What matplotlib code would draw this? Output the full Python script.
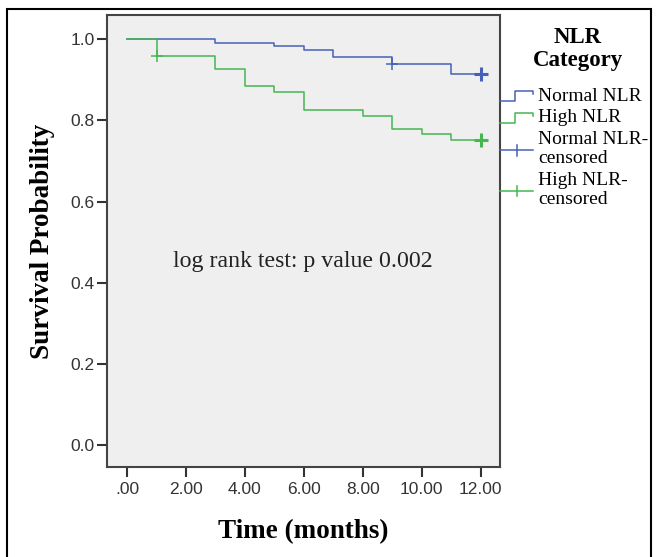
import matplotlib.pyplot as plt
from matplotlib.lines import Line2D
from matplotlib.patches import Rectangle
from matplotlib.legend_handler import HandlerBase

# Kaplan-Meier steps
normal_time = [0, 3, 5, 6, 7, 9, 11, 12]
normal_surv = [1.0, 0.991, 0.984, 0.974, 0.956, 0.939, 0.914, 0.914]
high_time = [0, 1, 3, 4, 5, 6, 8, 9, 10, 11, 12]
high_surv = [1.0, 0.958, 0.928, 0.884, 0.870, 0.826, 0.810, 0.780, 0.767, 0.752, 0.752]

# censored observations
normal_cens_time = [9, 12]
normal_cens_surv = [0.939, 0.914]
high_cens_time = [1, 12]
high_cens_surv = [0.958, 0.752]

x_ticks = [0, 2, 4, 6, 8, 10, 12]
x_ticklabels = [".00", "2.00", "4.00", "6.00", "8.00", "10.00", "12.00"]
y_ticks = [0.0, 0.2, 0.4, 0.6, 0.8, 1.0]
y_ticklabels = ["0.0", "0.2", "0.4", "0.6", "0.8", "1.0"]

legend_labels = ["Normal NLR", "High NLR", "Normal NLR-\ncensored", "High NLR-\ncensored"]

blue = "#4660b9"
green = "#45b650"
serif = "Liberation Serif"
sans = "Liberation Sans"


class StepHandler(HandlerBase):
    # SPSS style step sample for the line entries
    def create_artists(self, legend, orig, xd, yd, w, h, fontsize, trans):
        y0 = yd + h * 0.0
        y1 = yd + h * 0.7
        xs = [xd, xd + w * 0.45, xd + w * 0.45, xd + w, xd + w]
        ys = [y0, y0, y1, y1, y1 - h * 0.2]
        ln = Line2D(xs, ys, color=orig.get_color(), lw=1.1, transform=trans)
        return [ln]


class CensorHandler(HandlerBase):
    def create_artists(self, legend, orig, xd, yd, w, h, fontsize, trans):
        yc = yd + h * 0.4
        ln = Line2D([xd, xd + w], [yc, yc], color=orig.get_color(), lw=1.1, transform=trans)
        tk = Line2D([xd + w * 0.5, xd + w * 0.5], [yc - h * 0.4, yc + h * 0.4],
                    color=orig.get_color(), lw=1.1, transform=trans)
        return [ln, tk]


fig = plt.figure(figsize=(6.57, 5.57), dpi=100)
ax = fig.add_axes([107 / 657, 1 - 467 / 557, (500 - 107) / 657, (467 - 15) / 557])
ax.set_facecolor("#efefef")

ax.step(normal_time, normal_surv, where="post", color=blue, lw=1.1)
ax.step(high_time, high_surv, where="post", color=green, lw=1.1)

# small censor ticks inside, heavier ones at the end of follow-up
ax.plot(normal_cens_time[:-1], normal_cens_surv[:-1], "+", color=blue, ms=9, mew=1.1)
ax.plot(normal_cens_time[-1:], normal_cens_surv[-1:], "+", color=blue, ms=10, mew=2.2)
ax.plot(high_cens_time[:-1], high_cens_surv[:-1], "+", color=green, ms=9, mew=1.1)
ax.plot(high_cens_time[-1:], high_cens_surv[-1:], "+", color=green, ms=10, mew=2.2)

ax.set_xlim(-0.68, 12.65)
ax.set_ylim(-0.054, 1.06)
ax.set_xticks(x_ticks)
ax.set_xticklabels(x_ticklabels)
ax.set_yticks(y_ticks)
ax.set_yticklabels(y_ticklabels)
ax.tick_params(length=7, width=1.5, color="#333333", labelcolor="#333333", labelsize=12.5)
ax.tick_params(axis="x", pad=4)
ax.tick_params(axis="y", pad=2)
for lab in ax.get_xticklabels() + ax.get_yticklabels():
    lab.set_family(sans)
for sp in ax.spines.values():
    sp.set_color("#444444")
    sp.set_linewidth(1.5)

ax.set_xlabel("Time (months)", family=serif, fontweight="bold", fontsize=19.5, labelpad=16)
ax.set_ylabel("Survival Probability", family=serif, fontweight="bold", fontsize=19.5, labelpad=11)

ax.text(5.95, 0.452, "log rank test: p value 0.002", family=serif, fontsize=17.2,
        ha="center", va="center", color="#222222")

# legend outside the axes on the right
handles = [Line2D([], [], color=blue), Line2D([], [], color=green),
           Line2D([], [], color=blue), Line2D([], [], color=green)]
fig.text(578 / 657, 1 - 49 / 557, "NLR\nCategory", family=serif, fontweight="bold",
         fontsize=16.5, ha="center", va="center", linespacing=1.15)
leg = fig.legend(handles, legend_labels, loc="upper left",
                 bbox_to_anchor=(500 / 657, 1 - 87 / 557), frameon=False,
                 prop={"family": serif, "size": 14}, borderpad=0, borderaxespad=0,
                 handlelength=1.7, handletextpad=0.28, labelspacing=0.22,
                 handler_map={handles[0]: StepHandler(), handles[1]: StepHandler(),
                              handles[2]: CensorHandler(), handles[3]: CensorHandler()})
for t in leg.get_texts():
    t.set_linespacing(1.2)

# outer frame of the exported chart
fig.patches.append(Rectangle((7 / 657, -0.02), (651 - 7) / 657, 1 - 9 / 557 + 0.02,
                             transform=fig.transFigure, fill=False, lw=1.5,
                             edgecolor="black"))

fig.savefig("out.png", dpi=100)
